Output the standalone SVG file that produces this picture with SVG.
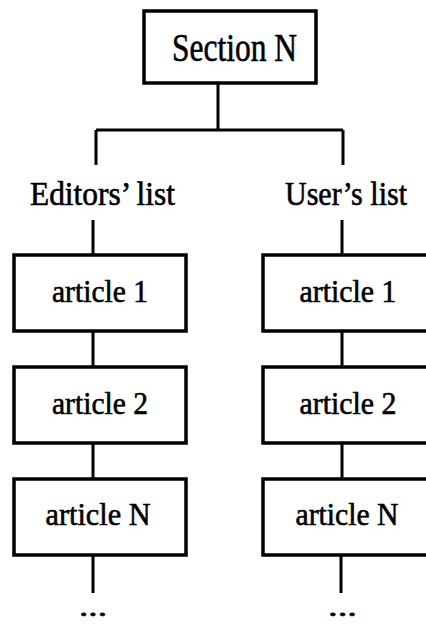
<svg xmlns="http://www.w3.org/2000/svg" width="426" height="624" viewBox="0 0 426 624">
<style>
.box{fill:#fff;stroke:#000;stroke-width:3.5}
.ln{stroke:#000;stroke-width:3;fill:none}
.t{font-family:"Liberation Serif","Times New Roman",serif;fill:#000;stroke:#000;stroke-width:0.6}
.a{font-size:31px;text-anchor:middle}
</style>
<g id="connectors">
<path class="ln" d="M218,83 V130 M96,130 H343 M96,130 V165 M343,130 V165"/>
<path class="ln" d="M93,220 V255 M93,331 V367 M93,443 V479 M93,555 V593"/>
<path class="ln" d="M342,220 V255 M342,331 V367 M342,443 V479 M341,555 V593"/>
</g>
<g id="section-n">
<rect class="box" x="144" y="11" width="172" height="72"/>
<text class="t" x="172" y="61" font-size="39" textLength="125" lengthAdjust="spacingAndGlyphs">Section N</text>
</g>
<g id="editors-list">
<text class="t" x="30" y="205" font-size="33" textLength="145" lengthAdjust="spacingAndGlyphs">Editors’ list</text>
</g>
<g id="users-list">
<text class="t" x="285" y="205" font-size="33" textLength="122" lengthAdjust="spacingAndGlyphs">User’s list</text>
</g>
<g id="left-article-1">
<rect class="box" x="14" y="255" width="172" height="76"/>
<text class="t a" x="100" y="302" textLength="96" lengthAdjust="spacingAndGlyphs">article 1</text>
</g>
<g id="left-article-2">
<rect class="box" x="14" y="367" width="172" height="76"/>
<text class="t a" x="100" y="414" textLength="96" lengthAdjust="spacingAndGlyphs">article 2</text>
</g>
<g id="left-article-n">
<rect class="box" x="14" y="479" width="172" height="76"/>
<text class="t a" x="98" y="525" textLength="105" lengthAdjust="spacingAndGlyphs">article N</text>
</g>
<g id="right-article-1">
<rect class="box" x="263" y="255" width="172" height="76"/>
<text class="t a" x="348" y="302" textLength="97" lengthAdjust="spacingAndGlyphs">article 1</text>
</g>
<g id="right-article-2">
<rect class="box" x="263" y="367" width="172" height="76"/>
<text class="t a" x="348" y="414" textLength="97" lengthAdjust="spacingAndGlyphs">article 2</text>
</g>
<g id="right-article-n">
<rect class="box" x="263" y="479" width="172" height="76"/>
<text class="t a" x="347" y="525" textLength="103" lengthAdjust="spacingAndGlyphs">article N</text>
</g>
<g id="left-more">
<text class="t" x="79" y="616" font-size="28" textLength="28" lengthAdjust="spacingAndGlyphs">...</text>
</g>
<g id="right-more">
<text class="t" x="328" y="616" font-size="28" textLength="29" lengthAdjust="spacingAndGlyphs">...</text>
</g>
</svg>
